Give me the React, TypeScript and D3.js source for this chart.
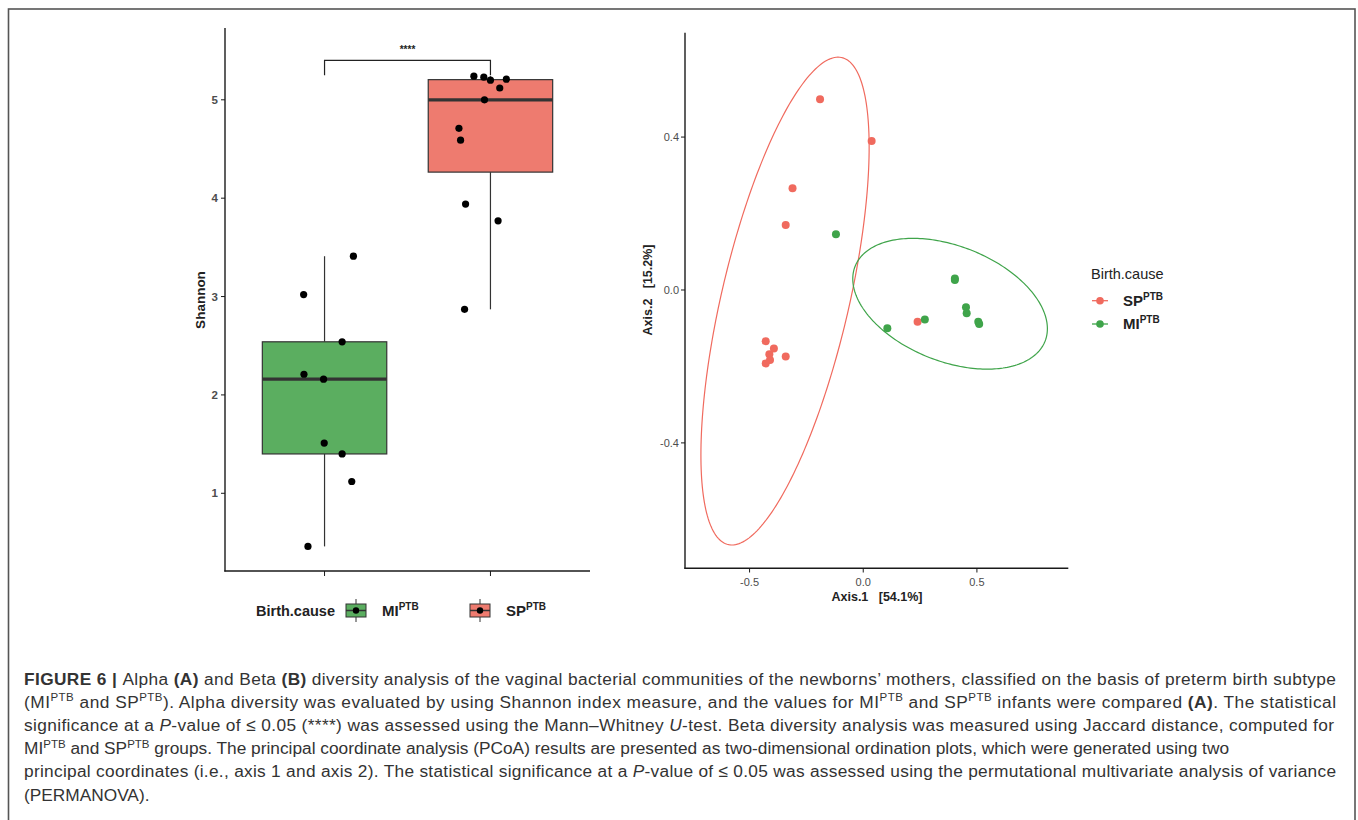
import React from "react";
import * as d3 from "d3";

// ---------- Data (A) Shannon alpha diversity ----------
const groups = ["MI", "SP"];
const miShannon = [3.02, 3.41, 2.54, 2.21, 2.16, 1.51, 1.40, 1.12, 0.46];
const miJitter = [-0.126, 0.174, 0.106, -0.124, -0.006, -0.002, 0.106, 0.164, -0.1];
const spShannon = [5.24, 5.23, 5.2, 5.21, 5.12, 5.0, 4.71, 4.59, 3.94, 3.77, 2.87];
const spJitter = [-0.1, -0.04, 0, 0.096, 0.056, -0.036, -0.19, -0.18, -0.15, 0.046, -0.156];
const shannonTicks = [1, 2, 3, 4, 5];
const sigLabel = "****";
const bracketY = 5.40;
const bracketLeg = 5.25;

// ---------- Data (B) PCoA ----------
const spAxis1 = [-0.19, 0.037, -0.311, -0.341, 0.239, -0.429, -0.393, -0.413, -0.341, -0.41, -0.429];
const spAxis2 = [0.499, 0.39, 0.266, 0.17, -0.083, -0.134, -0.153, -0.168, -0.174, -0.183, -0.192];
const miAxis1 = [-0.12, 0.403, 0.403, 0.271, 0.106, 0.452, 0.455, 0.506, 0.51];
const miAxis2 = [0.146, 0.026, 0.03, -0.077, -0.1, -0.045, -0.061, -0.083, -0.089];
// ellipse params: centre x, centre y, half-extent x, half-extent y, correlation
const spEllipse = [-0.344, -0.029, 0.37, 0.638, 0.631];
const miEllipse = [0.382, -0.036, 0.428, 0.171, -0.381];
const pcoaXTicks = [-0.5, 0, 0.5];
const pcoaYTicks = [-0.4, 0, 0.4];

const FONT = "'Liberation Sans', Arial, Helvetica, sans-serif";
const GREEN_FILL = "#5bae60";
const RED_FILL = "#ee7b6f";
const RED_PT = "#f06a5e";
const GREEN_PT = "#3fa44a";
const AXIS = "#1a1a1a";
const TICKTXT = "#4d4d4d";

function BoxPanel() {
  const x = d3.scalePoint<string>().domain(groups).range([225, 590]).padding(0.6);
  const y = d3.scaleLinear().domain([0.21, 5.73]).range([571, 28]);
  const step = x.step();
  const boxW = step * 0.75;
  const series = [
    { g: "MI", vals: miShannon, jit: miJitter, fill: GREEN_FILL },
    { g: "SP", vals: spShannon, jit: spJitter, fill: RED_FILL },
  ];
  return (
    <g>
      {series.map((s) => {
        const sorted = [...s.vals].sort((a, b) => a - b);
        const q1 = d3.quantile(sorted, 0.25)!;
        const med = d3.quantile(sorted, 0.5)!;
        const q3 = d3.quantile(sorted, 0.75)!;
        const iqr = q3 - q1;
        const lo = d3.min(sorted.filter((v) => v >= q1 - 1.5 * iqr))!;
        const hi = d3.max(sorted.filter((v) => v <= q3 + 1.5 * iqr))!;
        const cx = x(s.g)!;
        return (
          <g key={s.g}>
            <line x1={cx} x2={cx} y1={y(hi)} y2={y(q3)} stroke="#333" strokeWidth={1.2} />
            <line x1={cx} x2={cx} y1={y(q1)} y2={y(lo)} stroke="#333" strokeWidth={1.2} />
            <rect x={cx - boxW / 2} y={y(q3)} width={boxW} height={y(q1) - y(q3)} fill={s.fill} stroke="#333" strokeWidth={1.2} />
            <line x1={cx - boxW / 2} x2={cx + boxW / 2} y1={y(med)} y2={y(med)} stroke="#333" strokeWidth={3.2} />
          </g>
        );
      })}
      {series.map((s) =>
        s.vals.map((v, i) => (
          <circle key={s.g + i} cx={x(s.g)! + s.jit[i] * step} cy={y(v)} r={3.6} fill="#000" />
        ))
      )}
      {/* significance bracket */}
      <path
        d={`M${x("MI")},${y(bracketLeg)}V${y(bracketY)}H${x("SP")}V${y(bracketLeg)}`}
        fill="none"
        stroke="#222"
        strokeWidth={1.2}
      />
      <text x={(x("MI")! + x("SP")!) / 2} y={y(bracketY) - 7} textAnchor="middle" fontSize={10} fontWeight="bold" fill="#222" fontFamily={FONT}>
        {sigLabel}
      </text>
      {/* axes */}
      <line x1={225} x2={225} y1={28} y2={571.5} stroke={AXIS} strokeWidth={1.4} />
      <line x1={224.3} x2={590} y1={571} y2={571} stroke={AXIS} strokeWidth={1.4} />
      {shannonTicks.map((t) => (
        <g key={t}>
          <line x1={221} x2={225} y1={y(t)} y2={y(t)} stroke={AXIS} strokeWidth={1} />
          <text x={218} y={y(t) + 4} textAnchor="end" fontSize={11.5} fill={TICKTXT} fontFamily={FONT} fontWeight="bold">
            {t}
          </text>
        </g>
      ))}
      {groups.map((g) => (
        <line key={g} x1={x(g)} x2={x(g)} y1={571} y2={576} stroke={AXIS} strokeWidth={1} />
      ))}
      <text transform="translate(205,300) rotate(-90)" textAnchor="middle" fontSize={13.5} fontWeight="bold" fill="#222" fontFamily={FONT}>
        Shannon
      </text>
      {/* legend */}
      <text x={256} y={615.5} fontSize={14.5} fontWeight="bold" fill="#222" fontFamily={FONT}>
        Birth.cause
      </text>
      {[
        { kx: 346, lx: 382, fill: GREEN_FILL, lab: "MI" },
        { kx: 470, lx: 506, fill: RED_FILL, lab: "SP" },
      ].map((k) => (
        <g key={k.lab}>
          <line x1={k.kx + 10} x2={k.kx + 10} y1={599} y2={622} stroke="#333" strokeWidth={1} />
          <rect x={k.kx} y={604} width={20} height={13} fill={k.fill} stroke="#333" strokeWidth={1} />
          <line x1={k.kx} x2={k.kx + 20} y1={610.5} y2={610.5} stroke="#333" strokeWidth={1.5} />
          <circle cx={k.kx + 10} cy={610.5} r={3.2} fill="#000" />
          <text x={k.lx} y={616} fontSize={15} fontWeight="bold" fill="#222" fontFamily={FONT}>
            {k.lab}
            <tspan fontSize={10} dy={-6}>PTB</tspan>
          </text>
        </g>
      ))}
    </g>
  );
}

function ellipsePath(p: number[], x: d3.ScaleLinear<number, number>, y: d3.ScaleLinear<number, number>) {
  const [cx, cy, sx, sy, r] = p;
  const ts = d3.range(0, 2 * Math.PI + 0.001, (2 * Math.PI) / 240);
  const line = d3
    .line<number>()
    .x((t) => x(cx + sx * Math.cos(t)))
    .y((t) => y(cy + sy * (r * Math.cos(t) + Math.sqrt(1 - r * r) * Math.sin(t))))
    .curve(d3.curveLinearClosed);
  return line(ts) || "";
}

function PcoaPanel() {
  const x = d3.scaleLinear().domain([-0.784, 0.902]).range([685, 1068.3]);
  const y = d3.scaleLinear().domain([-0.728, 0.673]).range([568.3, 32.7]);
  return (
    <g>
      <path d={ellipsePath(spEllipse, x, y)} fill="none" stroke={RED_PT} strokeWidth={1.2} />
      <path d={ellipsePath(miEllipse, x, y)} fill="none" stroke={GREEN_PT} strokeWidth={1.2} />
      {spAxis1.map((v, i) => (
        <circle key={"s" + i} cx={x(v)} cy={y(spAxis2[i])} r={4} fill={RED_PT} />
      ))}
      {miAxis1.map((v, i) => (
        <circle key={"m" + i} cx={x(v)} cy={y(miAxis2[i])} r={4} fill={GREEN_PT} />
      ))}
      <line x1={685} x2={685} y1={32.7} y2={568.8} stroke={AXIS} strokeWidth={1.4} />
      <line x1={684.3} x2={1068.3} y1={568.3} y2={568.3} stroke={AXIS} strokeWidth={1.4} />
      {pcoaYTicks.map((t) => (
        <g key={t}>
          <line x1={681} x2={685} y1={y(t)} y2={y(t)} stroke={AXIS} strokeWidth={1} />
          <text x={679} y={y(t) + 4} textAnchor="end" fontSize={11} fill={TICKTXT} fontFamily={FONT}>
            {d3.format(".1f")(t).replace("−", "-")}
          </text>
        </g>
      ))}
      {pcoaXTicks.map((t) => (
        <g key={t}>
          <line x1={x(t)} x2={x(t)} y1={568.3} y2={572.5} stroke={AXIS} strokeWidth={1} />
          <text x={x(t)} y={586} textAnchor="middle" fontSize={11} fill={TICKTXT} fontFamily={FONT}>
            {d3.format(".1f")(t).replace("−", "-")}
          </text>
        </g>
      ))}
      <text x={877} y={601} textAnchor="middle" fontSize={12.5} fontWeight="bold" fill="#222" fontFamily={FONT} style={{ whiteSpace: "pre" }}>
        {"Axis.1   [54.1%]"}
      </text>
      <text transform="translate(652,290) rotate(-90)" textAnchor="middle" fontSize={12.5} fontWeight="bold" fill="#222" fontFamily={FONT} style={{ whiteSpace: "pre" }}>
        {"Axis.2   [15.2%]"}
      </text>
      {/* legend */}
      <text x={1091} y={279} fontSize={14.5} fill="#222" fontFamily={FONT}>
        Birth.cause
      </text>
      {[
        { yy: 300.7, col: RED_PT, lab: "SP" },
        { yy: 324, col: GREEN_PT, lab: "MI" },
      ].map((k) => (
        <g key={k.lab}>
          <line x1={1092} x2={1108} y1={k.yy} y2={k.yy} stroke={k.col} strokeWidth={1.3} />
          <circle cx={1100} cy={k.yy} r={3.8} fill={k.col} />
          <text x={1123} y={k.yy + 5} fontSize={15} fontWeight="bold" fill="#222" fontFamily={FONT}>
            {k.lab}
            <tspan fontSize={10} dy={-6}>PTB</tspan>
          </text>
        </g>
      ))}
    </g>
  );
}

type Seg = { t: string; b?: boolean; i?: boolean; sup?: boolean };

const captionLines: Seg[][] = [
  [
    { t: "FIGURE 6 | ", b: true },
    { t: "Alpha " },
    { t: "(A)", b: true },
    { t: " and Beta " },
    { t: "(B)", b: true },
    { t: " diversity analysis of the vaginal bacterial communities of the newborns’ mothers, classified on the basis of preterm birth subtype" },
  ],
  [
    { t: "(MI" },
    { t: "PTB", sup: true },
    { t: " and SP" },
    { t: "PTB", sup: true },
    { t: "). Alpha diversity was evaluated by using Shannon index measure, and the values for MI" },
    { t: "PTB", sup: true },
    { t: " and SP" },
    { t: "PTB", sup: true },
    { t: " infants were compared " },
    { t: "(A)", b: true },
    { t: ". The statistical" },
  ],
  [
    { t: "significance at a " },
    { t: "P", i: true },
    { t: "-value of ≤ 0.05 (****) was assessed using the Mann–Whitney " },
    { t: "U", i: true },
    { t: "-test. Beta diversity analysis was measured using Jaccard distance, computed for" },
  ],
  [
    { t: "MI" },
    { t: "PTB", sup: true },
    { t: " and SP" },
    { t: "PTB", sup: true },
    { t: " groups. The principal coordinate analysis (PCoA) results are presented as two-dimensional ordination plots, which were generated using two" },
  ],
  [
    { t: "principal coordinates (i.e., axis 1 and axis 2). The statistical significance at a " },
    { t: "P", i: true },
    { t: "-value of ≤ 0.05 was assessed using the permutational multivariate analysis of variance" },
  ],
  [{ t: "(PERMANOVA)." }],
];
const lineWidths = [1312, 1312, 1310, 1205, 1312, 0];

function Caption() {
  const baselines = [684.5, 707.7, 730.9, 754.1, 777.3, 800.5];
  return (
    <g>
      {captionLines.map((segs, li) => (
        <text
          key={li}
          x={24}
          y={baselines[li]}
          fontSize={17.3}
          fill="#333"
          fontFamily={FONT}
          style={{ whiteSpace: "pre" }}
          textLength={lineWidths[li] ? lineWidths[li] : undefined}
          lengthAdjust={lineWidths[li] ? "spacing" : undefined}
        >
          {segs.map((s, si) => {
            const prevSup = si > 0 && segs[si - 1].sup;
            if (s.sup) {
              return (
                <tspan key={si} fontSize={11.5} dy={-6.5}>
                  {s.t}
                </tspan>
              );
            }
            return (
              <tspan key={si} dy={prevSup ? 6.5 : undefined} fontWeight={s.b ? "bold" : "normal"} fontStyle={s.i ? "italic" : "normal"}>
                {s.t}
              </tspan>
            );
          })}
        </text>
      ))}
    </g>
  );
}

export default function App() {
  return (
    <svg
      width={1358}
      height={820}
      viewBox="0 0 1358 820"
      style={{ position: "absolute", left: 0, top: 0, display: "block", background: "#fff" }}
    >
      <rect x={0} y={0} width={1358} height={820} fill="#fff" />
      <rect x={8.5} y={9} width={1346.5} height={830} fill="none" stroke="#555" strokeWidth={1.6} />
      <BoxPanel />
      <PcoaPanel />
      <Caption />
    </svg>
  );
}
